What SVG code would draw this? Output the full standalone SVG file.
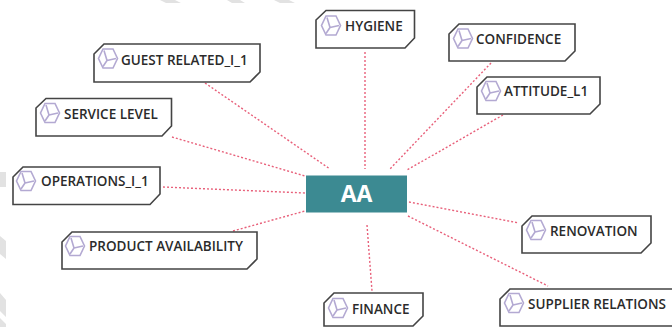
<svg xmlns="http://www.w3.org/2000/svg" width="672" height="327" viewBox="0 0 672 327">
<style>
.n{fill:#fff;stroke:#444;stroke-width:1.6}
.t{font-family:"Open Sans","Liberation Sans",sans-serif;font-size:13.500px;font-weight:600;fill:#2b2b2b}
.c{stroke:#e8607a;stroke-width:1.4;stroke-dasharray:2 2;fill:none}
.i{fill:none;stroke:#b3a9d2;stroke-width:1.600}
.h{fill:#e2e2e2}
</style>
<defs>
<g id="ic"><path class="i" d="M-5-9.500H5L9.500 0 5 9.500H-5L-9.500 0Z"/><path class="i" d="M-1 2L-4-8M-1 2L8 0M-1 2L-5 8"/></g>
</defs>
<rect width="672" height="327" fill="#fff"/>
<g id="backdrop">
<path class="h" d="M160 0H175L181 3H166ZM227 0H240L245 3H232ZM274 0H289L295 3H280ZM0 172H6V187H0ZM0 236L6 241V259L0 254ZM0 293L6 300V317L0 311ZM0 318L6 324V327H0Z"/>
</g>
<g id="connectors">
<path class="c" d="M205 83L330 169"/>
<path class="c" d="M172 137L305 176"/>
<path class="c" d="M163 187L305 193"/>
<path class="c" d="M233 231L305 211"/>
<path class="c" d="M365 52L365 169"/>
<path class="c" d="M491 63L389 170"/>
<path class="c" d="M503 115L407 170"/>
<path class="c" d="M409 202L519 223"/>
<path class="c" d="M408 216L548 286"/>
<path class="c" d="M367 225L372 291"/>
</g>
<g id="node-guest"><path class="n" d="M104 44H260V72L250 82H94V54Z"/><use href="#ic" x="108" y="58.500"/><text class="t" x="121" y="64.500">GUEST RELATED_I_1</text></g>
<g id="node-service"><path class="n" d="M46 98.500H171.500V126L162 136H36V108Z"/><use href="#ic" x="50" y="113"/><text class="t" x="64" y="118.500">SERVICE LEVEL</text></g>
<g id="node-hygiene"><path class="n" d="M326 10.500H414.500V38L405 48H316V20Z"/><use href="#ic" x="331" y="25.500"/><text class="t" x="345" y="31">HYGIENE</text></g>
<g id="node-confidence"><path class="n" d="M459 24H575V51L565 61H449V34Z"/><use href="#ic" x="463" y="38.500"/><text class="t" x="476" y="44">CONFIDENCE</text></g>
<g id="node-attitude"><path class="n" d="M487 77H600V104L590 114H477V87Z"/><use href="#ic" x="491" y="91"/><text class="t" x="504" y="96">ATTITUDE_L1</text></g>
<g id="node-operations"><path class="n" d="M23 167H160V194L150 204.500H13V177Z"/><use href="#ic" x="26" y="181"/><text class="t" x="41" y="186">OPERATIONS_I_1</text></g>
<g id="node-product"><path class="n" d="M72 232H257V259L247 269H62V242Z"/><use href="#ic" x="75" y="246"/><text class="t" x="89" y="251">PRODUCT AVAILABILITY</text></g>
<g id="node-renovation"><path class="n" d="M532 216H651V243L641 253H522V226Z"/><use href="#ic" x="536" y="230"/><text class="t" x="550" y="235.500">RENOVATION</text></g>
<g id="node-finance"><path class="n" d="M334 293H423V316L413 326H324V303Z"/><use href="#ic" x="338" y="308"/><text class="t" x="352" y="313.500">FINANCE</text></g>
<g id="node-supplier"><path class="n" d="M510 289H673V326H500V299Z"/><use href="#ic" x="514" y="303"/><text class="t" x="528" y="308.500">SUPPLIER RELATIONS</text></g>
<g id="node-aa"><rect x="306" y="175.500" width="101" height="37" fill="#3c8a92"/><text x="356.500" y="202" text-anchor="middle" font-family="Open Sans,Liberation Sans,sans-serif" font-size="23" font-weight="700" fill="#fff">AA</text></g>
</svg>
